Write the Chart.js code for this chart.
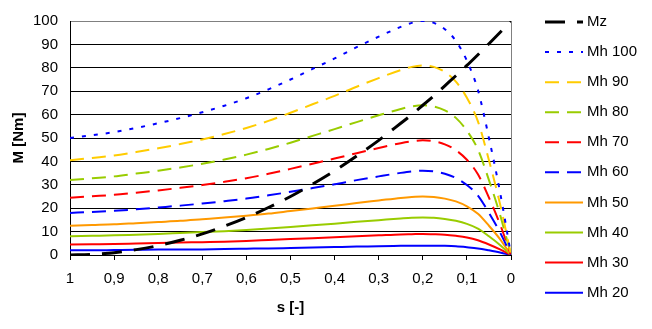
<!DOCTYPE html>
<html>
<head>
<meta charset="utf-8">
<script src="https://cdn.jsdelivr.net/npm/chart.js@4/dist/chart.umd.min.js"></script>
<style>
  body { margin: 0; background: #fff; }
  canvas { display: block; }
</style>
</head>
<body>
<canvas id="chart-canvas" width="652" height="329"></canvas>
<script>
// slip values (x axis, read right to left in the picture)
const sValues = [1, 0.95, 0.9, 0.85, 0.8, 0.75, 0.7, 0.65, 0.6, 0.55, 0.5, 0.45, 0.4, 0.35, 0.3, 0.25,
  0.225, 0.2, 0.175, 0.15, 0.125, 0.1, 0.075, 0.05, 0.025, 0];

const mz    = [0, 0.3, 1, 2.3, 4, 6.3, 9, 12.3, 16, 20.3, 25, 30.3, 36, 42.3, 49, 56.3, 60, 64, 68, 72.3, 76.6, 81, 85.6, 90.3, 95.1, 100];
const mh100 = [50, 51.2, 52.5, 54.3, 56.3, 58.5, 61, 63.8, 67, 70.8, 75, 79.5, 84, 88.8, 93.3, 97.5, 99.2, 100, 99.2, 96.5, 91.5, 83, 70.5, 50, 27, 0];
const mh90  = [40.5, 41.5, 42.5, 44, 45.6, 47.4, 49.4, 51.7, 54.3, 57.3, 60.8, 64.4, 68, 71.9, 75.6, 79, 80.4, 81, 80.4, 78.2, 74.1, 67.2, 57.1, 40.5, 21.9, 0];
const mh80  = [32, 32.8, 33.6, 34.8, 36, 37.4, 39, 40.8, 42.9, 45.3, 48, 50.9, 53.8, 56.8, 59.7, 62.4, 63.5, 64, 63.5, 61.8, 58.6, 53.1, 45.1, 32, 17.3, 0];
const mh70  = [24.5, 25.1, 25.7, 26.6, 27.6, 28.7, 29.9, 31.3, 32.8, 34.7, 36.8, 39, 41.2, 43.5, 45.7, 47.8, 48.6, 49, 48.6, 47.3, 44.8, 40.7, 34.5, 24.5, 13.2, 0];
const mh60  = [18, 18.4, 18.9, 19.5, 20.3, 21.1, 22, 23, 24.1, 25.5, 27, 28.6, 30.2, 32, 33.6, 35.1, 35.7, 36, 35.7, 34.7, 32.9, 29.9, 25.4, 18, 9.7, 0];
const mh50  = [12.5, 12.8, 13.1, 13.6, 14.1, 14.6, 15.3, 16, 16.8, 17.7, 18.8, 19.9, 21, 22.2, 23.3, 24.4, 24.8, 25, 24.8, 24.1, 22.9, 20.8, 17.6, 12.5, 6.8, 0];
const mh40  = [8, 8.2, 8.4, 8.7, 9, 9.4, 9.8, 10.2, 10.7, 11.3, 12, 12.7, 13.4, 14.2, 14.9, 15.6, 15.9, 16, 15.9, 15.4, 14.6, 13.3, 11.3, 8, 4.3, 0];
const mh30  = [4.5, 4.6, 4.7, 4.9, 5.1, 5.3, 5.5, 5.7, 6, 6.4, 6.8, 7.2, 7.6, 8, 8.4, 8.8, 8.9, 9, 8.9, 8.7, 8.2, 7.5, 6.3, 4.5, 2.4, 0];
const mh20  = [2, 2, 2.1, 2.2, 2.3, 2.3, 2.4, 2.6, 2.7, 2.8, 3, 3.2, 3.4, 3.6, 3.7, 3.9, 4, 4, 4, 3.9, 3.7, 3.3, 2.8, 2, 1.1, 0];

const seriesNames = ["Mz", "Mh 100", "Mh 90", "Mh 80", "Mh 70", "Mh 60", "Mh 50", "Mh 40", "Mh 30", "Mh 20"];
const seriesValues = [mz, mh100, mh90, mh80, mh70, mh60, mh50, mh40, mh30, mh20];
const seriesColors = ["#000000", "#0000FF", "#FFCC00", "#99CC00", "#FF0000", "#0000FF", "#FF9900", "#99CC00", "#FF0000", "#0000FF"];
const seriesDash = [[20, 12], [4, 8], [14, 8], [14, 8], [14, 8], [14, 8], [], [], [], []];
const seriesWidth = [3, 2, 2, 2, 2, 2, 2, 2, 2, 2];

const FONT = "'Liberation Sans', Arial, sans-serif";

const toPoints = (vals) => sValues.map((s, i) => ({ x: s, y: vals[i] }));

const datasets = seriesNames.map((name, i) => ({
  label: name,
  data: toPoints(seriesValues[i]),
  borderColor: seriesColors[i],
  borderWidth: seriesWidth[i],
  borderDash: seriesDash[i],
  pointRadius: 0,
  fill: false,
  cubicInterpolationMode: "monotone"
}));

// grey frame on the right of plot area (top one is the 100 gridline)
const frame = {
  id: "frame",
  beforeDatasetsDraw(chart) {
    const { ctx, chartArea } = chart;
    ctx.save();
    ctx.strokeStyle = "#808080";
    ctx.lineWidth = 1;
    ctx.beginPath();
    ctx.moveTo(chartArea.right + 0.5, chartArea.top);
    ctx.lineTo(chartArea.right + 0.5, chartArea.bottom);
    ctx.stroke();
    ctx.restore();
  }
};

// legend on the right, with the real dash of each line
const sideLegend = {
  id: "sideLegend",
  afterDraw(chart) {
    const ctx = chart.ctx;
    ctx.save();
    chart.data.datasets.forEach((ds, i) => {
      const y = 22 + i * 30.07;
      ctx.strokeStyle = ds.borderColor;
      ctx.lineWidth = ds.borderWidth;
      ctx.setLineDash(ds.borderDash);
      ctx.beginPath();
      ctx.moveTo(545, y);
      ctx.lineTo(583, y);
      ctx.stroke();
      ctx.setLineDash([]);
      ctx.fillStyle = "#000";
      ctx.font = "15px " + FONT;
      ctx.textBaseline = "middle";
      ctx.textAlign = "left";
      ctx.fillText(ds.label, 587, y);
    });
    ctx.restore();
  }
};

const canvas = document.getElementById("chart-canvas");
const context = canvas.getContext("2d");

new Chart(context, {
  type: "line",
  data: { datasets: datasets },
  plugins: [frame, sideLegend],
  options: {
    responsive: false,
    animation: false,
    layout: { padding: { top: 21, right: 141, bottom: 0, left: 0 } },
    plugins: {
      legend: { display: false },
      tooltip: { enabled: false }
    },
    scales: {
      x: {
        type: "linear",
        min: 0,
        max: 1,
        reverse: true,
        afterFit: (scale) => { scale.height = 74; },
        ticks: {
          stepSize: 0.1,
          padding: 10,
          color: "#000",
          font: { family: FONT, size: 15 },
          maxRotation: 0,
          callback: (v) => String(Math.round(v * 10) / 10).replace(".", ",")
        },
        grid: { drawOnChartArea: false, drawTicks: true, tickLength: 5, color: "#000" },
        border: { color: "#000" },
        title: {
          display: true,
          text: "s [-]",
          color: "#000",
          font: { family: FONT, size: 15, weight: "bold" },
          padding: { top: 0, bottom: 12 }
        }
      },
      y: {
        min: 0,
        max: 100,
        afterFit: (scale) => { scale.width = 70; },
        ticks: {
          stepSize: 10,
          padding: 12,
          color: "#000",
          font: { family: FONT, size: 15 }
        },
        grid: {
          drawTicks: false,
          color: (c) => (c.tick && c.tick.value === 100 ? "#808080" : "#000")
        },
        border: { color: "#000" },
        title: {
          display: true,
          text: "M [Nm]",
          color: "#000",
          font: { family: FONT, size: 15, weight: "bold" },
          padding: { top: 10, bottom: 0 }
        }
      }
    }
  }
});
</script>
</body>
</html>
